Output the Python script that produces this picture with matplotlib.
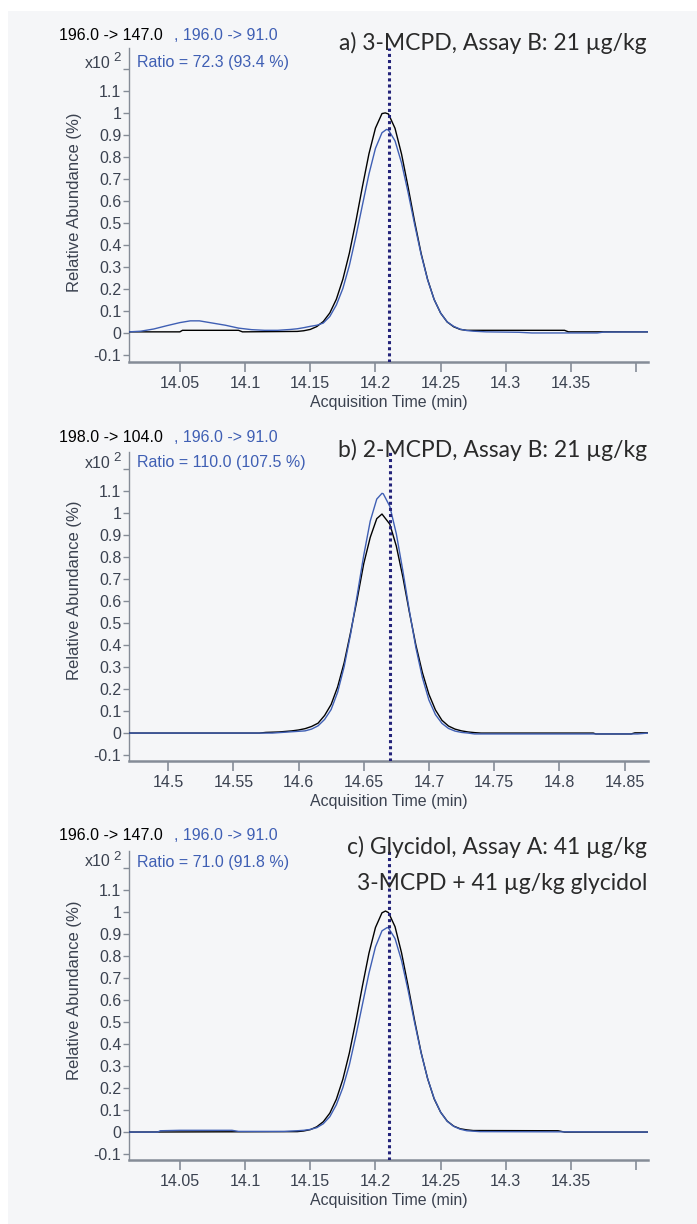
import matplotlib.pyplot as plt
from matplotlib.patches import Rectangle

# ---- panel a: 3-MCPD, assay B ----
a_t_black = [14.011, 14.05, 14.052, 14.095, 14.098, 14.14, 14.145, 14.15, 14.155, 14.16, 14.165,
             14.17, 14.175, 14.18, 14.185, 14.19, 14.195, 14.2, 14.205, 14.2075, 14.21, 14.215,
             14.22, 14.225, 14.23, 14.235, 14.24, 14.245, 14.25, 14.255, 14.26, 14.265, 14.27,
             14.28, 14.345, 14.348, 14.41]
a_black = [0.005, 0.005, 0.012, 0.012, 0.005, 0.007, 0.01, 0.016, 0.029, 0.052, 0.091,
           0.153, 0.244, 0.363, 0.508, 0.665, 0.814, 0.931, 0.997, 1.0, 0.995, 0.93,
           0.813, 0.664, 0.507, 0.362, 0.243, 0.152, 0.09, 0.05, 0.028, 0.016, 0.012,
           0.012, 0.012, 0.005, 0.005]
a_t_blue = [14.011, 14.02, 14.03, 14.04, 14.05, 14.058, 14.065, 14.075, 14.085, 14.095, 14.105,
            14.115, 14.125, 14.135, 14.14, 14.145, 14.15, 14.155, 14.16, 14.165, 14.17, 14.175,
            14.18, 14.185, 14.19, 14.195, 14.2, 14.205, 14.2085, 14.21, 14.215, 14.22, 14.225,
            14.23, 14.235, 14.24, 14.245, 14.25, 14.255, 14.26, 14.265, 14.27, 14.275, 14.285,
            14.31, 14.32, 14.37, 14.375, 14.41]
a_blue = [0.005, 0.008, 0.018, 0.033, 0.047, 0.055, 0.055, 0.045, 0.035, 0.022, 0.015,
          0.012, 0.012, 0.016, 0.019, 0.024, 0.03, 0.035, 0.045, 0.075, 0.127, 0.202,
          0.307, 0.438, 0.581, 0.722, 0.839, 0.91, 0.925, 0.922, 0.873, 0.773, 0.639,
          0.494, 0.357, 0.241, 0.152, 0.09, 0.05, 0.03, 0.017, 0.011, 0.008, 0.005,
          0.003, 0.0, 0.0, 0.004, 0.005]

# ---- panel b: 2-MCPD, assay B ----
b_t_black = [14.47, 14.57, 14.575, 14.585, 14.595, 14.6, 14.605, 14.61, 14.615, 14.62, 14.625,
             14.63, 14.635, 14.64, 14.645, 14.65, 14.655, 14.66, 14.664, 14.67, 14.675, 14.68,
             14.685, 14.69, 14.695, 14.7, 14.705, 14.71, 14.715, 14.72, 14.725, 14.73, 14.735,
             14.74, 14.826, 14.828, 14.855, 14.858, 14.868]
b_black = [0.0, 0.0, 0.003, 0.005, 0.01, 0.014, 0.02, 0.03, 0.045, 0.08, 0.13,
           0.21, 0.32, 0.46, 0.61, 0.77, 0.89, 0.975, 0.996, 0.95, 0.85, 0.71,
           0.55, 0.40, 0.275, 0.176, 0.105, 0.058, 0.032, 0.018, 0.01, 0.005, 0.002,
           0.0, 0.0, -0.004, -0.004, 0.001, 0.001]
b_t_blue = [14.47, 14.58, 14.59, 14.6, 14.605, 14.61, 14.615, 14.62, 14.625, 14.63, 14.635,
            14.64, 14.645, 14.65, 14.655, 14.66, 14.664, 14.665, 14.67, 14.675, 14.68, 14.685,
            14.69, 14.695, 14.7, 14.705, 14.71, 14.715, 14.72, 14.725, 14.73, 14.735, 14.86,
            14.868]
b_blue = [0.0, 0.0, 0.004, 0.008, 0.01, 0.018, 0.033, 0.062, 0.107, 0.186, 0.302,
          0.452, 0.628, 0.808, 0.964, 1.064, 1.09, 1.088, 1.031, 0.906, 0.738, 0.556,
          0.388, 0.252, 0.15, 0.084, 0.044, 0.021, 0.009, 0.003, 0.0, -0.004, -0.004,
          0.0]

# ---- panel c: glycidol, assay A ----
c_t_black = [14.011, 14.14, 14.145, 14.15, 14.155, 14.16, 14.165, 14.17, 14.175, 14.18, 14.185,
             14.19, 14.195, 14.2, 14.205, 14.2077, 14.21, 14.215, 14.22, 14.225, 14.23, 14.235,
             14.24, 14.245, 14.25, 14.255, 14.26, 14.265, 14.27, 14.275, 14.34, 14.345, 14.41]
c_black = [0.0, 0.002, 0.005, 0.011, 0.024, 0.047, 0.086, 0.149, 0.24, 0.36, 0.506,
           0.664, 0.813, 0.93, 0.997, 1.005, 0.998, 0.934, 0.815, 0.665, 0.508, 0.362,
           0.243, 0.151, 0.09, 0.05, 0.027, 0.015, 0.01, 0.007, 0.006, 0.0, 0.0]
c_t_blue = [14.011, 14.033, 14.035, 14.05, 14.09, 14.095, 14.13, 14.14, 14.145, 14.15, 14.155,
            14.16, 14.165, 14.17, 14.175, 14.18, 14.185, 14.19, 14.195, 14.2, 14.205, 14.209,
            14.21, 14.215, 14.22, 14.225, 14.23, 14.235, 14.24, 14.245, 14.25, 14.255, 14.26,
            14.265, 14.27, 14.28, 14.41]
c_blue = [0.0, 0.0, 0.006, 0.008, 0.008, 0.003, 0.003, 0.006, 0.008, 0.012, 0.02,
          0.038, 0.07, 0.124, 0.202, 0.306, 0.438, 0.58, 0.722, 0.842, 0.915, 0.93,
          0.928, 0.88, 0.78, 0.645, 0.498, 0.36, 0.243, 0.153, 0.09, 0.049, 0.026,
          0.013, 0.006, 0.002, 0.0]

# retention time markers
rt_marks = [14.210, 14.670, 14.210]

# axis ranges and ticks
xlims = [(14.011, 14.409), (14.470, 14.868), (14.011, 14.409)]
xticks_ac = [14.05, 14.1, 14.15, 14.2, 14.25, 14.3, 14.35, 14.4]
xlabels_ac = ['14.05', '14.1', '14.15', '14.2', '14.25', '14.3', '14.35', '']
xticks_b = [14.5, 14.55, 14.6, 14.65, 14.7, 14.75, 14.8, 14.85]
xlabels_b = ['14.5', '14.55', '14.6', '14.65', '14.7', '14.75', '14.8', '14.85']
yticks = [-0.1, 0, 0.1, 0.2, 0.3, 0.4, 0.5, 0.6, 0.7, 0.8, 0.9, 1, 1.1, 1.2]
ylabels = ['-0.1', '0', '0.1', '0.2', '0.3', '0.4', '0.5', '0.6', '0.7', '0.8', '0.9', '1', '1.1', '']

# header texts
transitions = ['196.0 -> 147.0', '198.0 -> 104.0', '196.0 -> 147.0']
qualifier = ', 196.0 -> 91.0'
ratios = ['Ratio = 72.3 (93.4 %)', 'Ratio = 110.0 (107.5 %)', 'Ratio = 71.0 (91.8 %)']
captions = [['a) 3-MCPD, Assay B: 21 µg/kg'],
            ['b) 2-MCPD, Assay B: 21 µg/kg'],
            ['c) Glycidol, Assay A: 41 µg/kg', '3-MCPD + 41 µg/kg glycidol']]

W, H = 697, 1224
BG = '#f5f6f8'
BLUE = '#3f5fb4'
TXT = '#3b4250'
SPINE = '#858c97'
FS = 11.5

plt.rcParams['font.family'] = 'Liberation Sans'

fig = plt.figure(figsize=(W / 100, H / 100), dpi=100)
fig.patch.set_facecolor(BG)
# white margin on top and left
fig.patches.append(Rectangle((0, 1 - 11 / H), 1, 11 / H, transform=fig.transFigure,
                             facecolor='white', edgecolor='none', zorder=0))
fig.patches.append(Rectangle((0, 0), 8 / W, 1, transform=fig.transFigure,
                             facecolor='white', edgecolor='none', zorder=0))


def fx(x):
    return x / W


def fy(y):
    return 1 - y / H


# pixel boxes: (top, bottom) of each plot area
boxes = [(48, 362), (452, 761), (851, 1160)]
ylims = [(-0.132, 1.295), (-0.127, 1.278), (-0.127, 1.278)]
head_y = [36, 437, 835]
ratio_y = [63, 463, 862]
cap_y = [[43], [450], [847, 883]]
ylab_y = [202, 590, 990]

series = [(a_t_black, a_black, a_t_blue, a_blue),
          (b_t_black, b_black, b_t_blue, b_blue),
          (c_t_black, c_black, c_t_blue, c_blue)]

left, right = 129, 648
for i in range(3):
    top, bottom = boxes[i]
    ax = fig.add_axes([fx(left), fy(bottom), (right - left) / W, (bottom - top) / H])
    ax.set_facecolor(BG)
    tk, k, tb, b = series[i]
    ax.plot(tk, k, color='black', lw=1.0, zorder=3)
    ax.plot(tb, b, color=BLUE, lw=1.0, zorder=4)
    ax.axvline(rt_marks[i], color='#23237a', lw=2.2, ls=(0, (1, 1)), zorder=5)

    ax.set_xlim(*xlims[i])
    ax.set_ylim(*ylims[i])
    if i == 1:
        ax.set_xticks(xticks_b, xlabels_b)
    else:
        ax.set_xticks(xticks_ac, xlabels_ac)
    ax.set_yticks(yticks, ylabels)
    for s in ['top', 'right']:
        ax.spines[s].set_visible(False)
    ax.spines['left'].set_color(SPINE)
    ax.spines['left'].set_linewidth(1.0)
    ax.spines['bottom'].set_color(SPINE)
    ax.spines['bottom'].set_linewidth(1.8)
    ax.tick_params(axis='x', length=7, width=1.2, color=SPINE, labelcolor=TXT,
                   labelsize=FS, pad=3)
    ax.tick_params(axis='y', length=4, width=1.0, color=SPINE, labelcolor=TXT,
                   labelsize=FS, pad=1.5)
    ax.set_xlabel('Acquisition Time (min)', color=TXT, fontsize=FS, labelpad=3)

    fig.text(fx(75), fy(ylab_y[i]), 'Relative Abundance (%)', rotation=90,
             ha='center', va='center', color=TXT, fontsize=FS + 0.5)
    fig.text(fx(59), fy(head_y[i]), transitions[i], ha='left', va='center',
             color='black', fontsize=FS)
    fig.text(fx(174), fy(head_y[i]), qualifier, ha='left', va='center',
             color=BLUE, fontsize=FS)
    fig.text(fx(111), fy(ratio_y[i]), 'x10', ha='right', va='center',
             color=TXT, fontsize=FS)
    fig.text(fx(113), fy(ratio_y[i] - 5), '2', ha='left', va='center',
             color=TXT, fontsize=FS - 2)
    fig.text(fx(137), fy(ratio_y[i]), ratios[i], ha='left', va='center',
             color=BLUE, fontsize=FS)
    for line, yy in zip(captions[i], cap_y[i]):
        fig.text(fx(647), fy(yy), line, ha='right', va='center',
                 color='#2a2a2a', fontsize=16.5, family='Lato')

fig.savefig('out.png', dpi=100, facecolor=fig.get_facecolor())
